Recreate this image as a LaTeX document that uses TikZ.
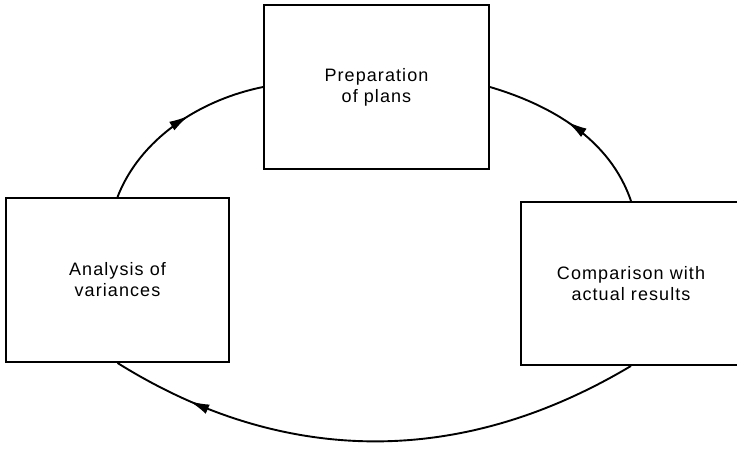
\documentclass[tikz,border=0pt]{standalone}
\usepackage{fontspec}
\setmainfont{Liberation Sans}[LetterSpace=6]
\usetikzlibrary{arrows.meta,decorations.markings}

\begin{document}
\begin{tikzpicture}[x=1pt,y=-1pt,
  stage/.style={draw, line width=1.9pt, align=center, inner sep=0pt,
    font=\fontsize{18}{21}\selectfont},
  flow/.style={line width=1.9pt, postaction={decorate},
    decoration={markings, mark=at position #1 with
      {\arrow{Latex[length=20pt,width=10pt]}}}}
]
\useasboundingbox (0,0) rectangle (737,448);
\clip (0,0) rectangle (737,448);

% the three stages of the control cycle
\node[stage, minimum width=225pt, minimum height=164pt] (plans) at (376.5,87) {Preparation\\of plans};
\node[stage, minimum width=223pt, minimum height=164pt] (var) at (117.5,280) {Analysis of\\variances};
\node[stage, minimum width=220pt, minimum height=163pt] (comp) at (631,283.5) {Comparison with\\actual results};

% the cycle
\draw[flow=0.58] (var.north) .. controls +(22.5,-58) and +(-64,13) .. (plans.west);
\draw[flow=0.55] (comp.north) .. controls +(-21,-62) and +(61,18) .. (plans.east);
\draw[flow=0.85] (comp.south) .. controls +(-176,105) and +(160,100) .. (var.south);
\end{tikzpicture}
\end{document}
